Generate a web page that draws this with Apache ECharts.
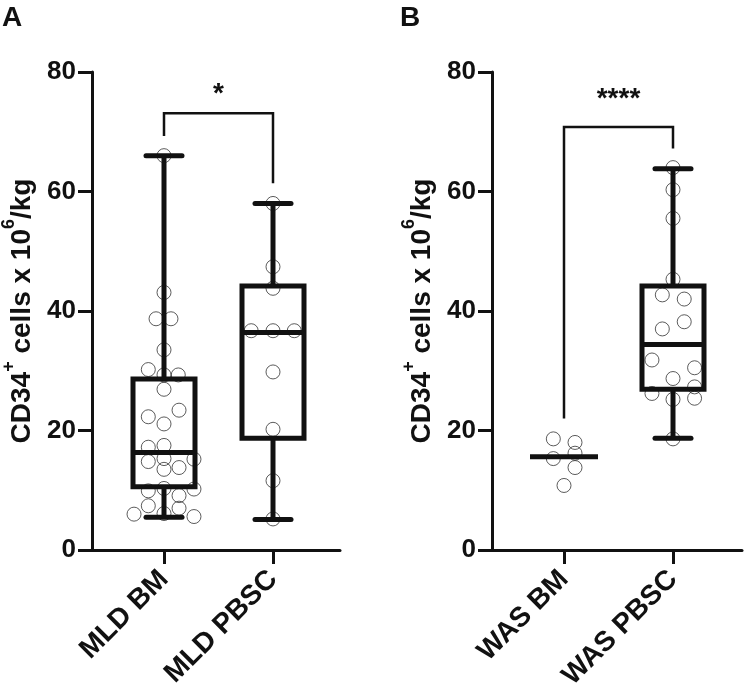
<!DOCTYPE html>
<html>
<head>
<meta charset="utf-8">
<script src="https://cdn.jsdelivr.net/npm/echarts@6/dist/echarts.min.js"></script>
<style>
html,body{margin:0;padding:0;background:#fff;}
#chart{width:747px;height:685px;}
</style>
</head>
<body>
<div id="chart"></div>
<script>
// ---- Data ----
const categoriesA = ['MLD BM', 'MLD PBSC'];
const categoriesB = ['WAS BM', 'WAS PBSC'];
const yTicks = [0, 20, 40, 60, 80];

// box stats: [category position, whisker low, Q1, median, Q3, whisker high]
const boxesA = [
  [1, 5.5, 10.6, 16.3, 28.6, 66.0],
  [2, 5.1, 18.7, 36.4, 44.2, 58.0]
];
const boxesB = [
  [2, 18.7, 26.9, 34.4, 44.2, 63.8]
];
// WAS BM shows only a median line
const medianOnlyB = [[1, 15.6]];

// individual points (values) and their horizontal jitter (category units)
const mldBmValues = [66.0, 43.1, 38.7, 38.7, 33.5, 30.2, 29.3, 29.3, 26.9, 23.4, 22.3, 21.1, 17.2, 17.5, 14.8, 15.3, 15.2, 13.5, 13.8, 9.9, 10.3, 10.2, 9.1, 7.4, 7.0, 6.0, 6.1, 5.6];
const mldBmJitter = [0, 0, -0.073, 0.064, 0, -0.144, 0, 0.131, 0, 0.138, -0.144, 0, -0.144, 0, -0.144, 0, 0.275, 0, 0.138, -0.144, 0, 0.275, 0.138, -0.144, 0.138, -0.275, 0, 0.275];
const mldPbscValues = [58.0, 47.4, 43.8, 36.7, 36.7, 36.7, 29.8, 20.2, 11.6, 5.2];
const mldPbscJitter = [0, 0, 0, -0.2, 0, 0.195, 0, 0, 0, 0];
const wasBmValues = [18.6, 18.0, 16.2, 15.3, 13.8, 10.8];
const wasBmJitter = [-0.098, 0.101, 0.101, -0.098, 0.101, 0];
const wasPbscValues = [64.0, 60.3, 55.5, 45.3, 42.7, 42.0, 38.2, 37.0, 31.8, 30.5, 28.7, 27.3, 26.2, 25.2, 25.4, 18.6];
const wasPbscJitter = [0, 0, 0, 0, -0.098, 0.103, 0.103, -0.098, -0.193, 0.198, 0, 0.198, -0.193, 0, 0.198, 0];

// significance brackets: [x left, left leg end, x right, right leg end, top, label y]
const bracketA = [[1, 69.3, 2, 61.4, 73.1, 76.2]];
const bracketALabel = '*';
const bracketB = [[1, 22.0, 2, 67.2, 70.8, 75.5]];
const bracketBLabel = '****';

// ---- Chart ----
const FONT = 'Liberation Sans, Arial, Helvetica, sans-serif';
const INK = '#111';
const X_MIN = 1 - 72 / 109;
const X_MAX_A = X_MIN + 248 / 109;
const X_MAX_B = X_MIN + 250 / 109;

function pts(values, jitter, cat) {
  return values.map((v, i) => [cat + jitter[i], v]);
}

function boxRender(params, api) {
  const x = api.value(0);
  const pLow = api.coord([x, api.value(1)]);
  const pQ1 = api.coord([x, api.value(2)]);
  const pMed = api.coord([x, api.value(3)]);
  const pQ3 = api.coord([x, api.value(4)]);
  const pHigh = api.coord([x, api.value(5)]);
  const cx = pLow[0];
  const hw = 31, cw = 18;
  const st = { stroke: INK, lineWidth: 5, fill: null };
  const cap = { stroke: INK, lineWidth: 5, fill: null, lineCap: 'round' };
  return {
    type: 'group',
    children: [
      { type: 'line', shape: { x1: cx, y1: pLow[1], x2: cx, y2: pQ1[1] }, style: st },
      { type: 'line', shape: { x1: cx, y1: pQ3[1], x2: cx, y2: pHigh[1] }, style: st },
      { type: 'line', shape: { x1: cx - cw, y1: pLow[1], x2: cx + cw, y2: pLow[1] }, style: cap },
      { type: 'line', shape: { x1: cx - cw, y1: pHigh[1], x2: cx + cw, y2: pHigh[1] }, style: cap },
      { type: 'rect', shape: { x: cx - hw, y: pQ3[1], width: 2 * hw, height: pQ1[1] - pQ3[1] }, style: { stroke: INK, lineWidth: 5, fill: 'rgba(0,0,0,0)' } },
      { type: 'line', shape: { x1: cx - hw, y1: pMed[1], x2: cx + hw, y2: pMed[1] }, style: st }
    ]
  };
}

function medianRender(params, api) {
  const p = api.coord([api.value(0), api.value(1)]);
  return { type: 'line', shape: { x1: p[0] - 34, y1: p[1], x2: p[0] + 34, y2: p[1] }, style: { stroke: INK, lineWidth: 5 } };
}

function bracketRender(label) {
  return function (params, api) {
    const pL0 = api.coord([api.value(0), api.value(1)]);
    const pLT = api.coord([api.value(0), api.value(4)]);
    const pRT = api.coord([api.value(2), api.value(4)]);
    const pR0 = api.coord([api.value(2), api.value(3)]);
    const pT = api.coord([(api.value(0) + api.value(2)) / 2, api.value(5)]);
    return {
      type: 'group',
      children: [
        { type: 'polyline', shape: { points: [pL0, pLT, pRT, pR0] }, style: { stroke: INK, lineWidth: 2.5, fill: null } },
        { type: 'text', x: pT[0], y: pT[1], style: { text: label, font: 'bold 28px ' + FONT, fill: INK, align: 'center', verticalAlign: 'middle' } }
      ]
    };
  };
}

const yName = '{a|CD34}{s|+}{a| cells x 10}{s|6}{a|/kg}';
const yNameStyle = {
  rich: {
    a: { fontSize: 28, fontWeight: 'bold', fontFamily: FONT, color: INK, padding: [8, 0, 0, 0], verticalAlign: 'bottom' },
    s: { fontSize: 18, fontWeight: 'bold', fontFamily: FONT, color: INK, verticalAlign: 'top' }
  }
};

function yAxis(gi) {
  return {
    gridIndex: gi, type: 'value', min: 0, max: 80, interval: 20,
    axisLine: { show: true, lineStyle: { color: INK, width: 3 } },
    axisTick: { show: true, length: 14, lineStyle: { color: INK, width: 3 } },
    axisLabel: { margin: 16, fontSize: 26, fontWeight: 'bold', fontFamily: FONT, color: INK,
      formatter: v => (yTicks.indexOf(v) >= 0 ? String(v) : '') },
    splitLine: { show: false },
    name: yName, nameLocation: 'middle', nameRotate: 90, nameGap: 56, nameTextStyle: yNameStyle
  };
}

function xAxis(gi, cats, max) {
  return {
    gridIndex: gi, type: 'value', min: X_MIN, max: max,
    axisLine: { show: true, onZero: false, lineStyle: { color: INK, width: 3 } },
    axisTick: { show: true, length: 14, lineStyle: { color: INK, width: 3 }, customValues: [1, 2] },
    axisLabel: { customValues: [1, 2], rotate: 45, margin: 25, fontSize: 28, fontWeight: 'bold', fontFamily: FONT, color: INK,
      formatter: v => cats[Math.round(v) - 1] || '' },
    splitLine: { show: false }
  };
}

const scatterStyle = { color: 'rgba(0,0,0,0)', borderColor: '#333', borderWidth: 1 };

const option = {
  animation: false,
  backgroundColor: '#fff',
  grid: [
    { left: 92, top: 72, width: 248, height: 478, containLabel: false, outerBoundsMode: 'none' },
    { left: 492, top: 72, width: 250, height: 478, containLabel: false, outerBoundsMode: 'none' }
  ],
  xAxis: [xAxis(0, categoriesA, X_MAX_A), xAxis(1, categoriesB, X_MAX_B)],
  yAxis: [yAxis(0), yAxis(1)],
  graphic: [
    { type: 'text', left: 2, top: 4, style: { text: 'A', font: 'bold 28px ' + FONT, fill: INK } },
    { type: 'text', left: 400, top: 4, style: { text: 'B', font: 'bold 28px ' + FONT, fill: INK } }
  ],
  series: [
    { type: 'scatter', xAxisIndex: 0, yAxisIndex: 0, z: 1, symbol: 'circle', symbolSize: 14, itemStyle: scatterStyle, data: pts(mldBmValues, mldBmJitter, 1) },
    { type: 'scatter', xAxisIndex: 0, yAxisIndex: 0, z: 1, symbol: 'circle', symbolSize: 14, itemStyle: scatterStyle, data: pts(mldPbscValues, mldPbscJitter, 2) },
    { type: 'scatter', xAxisIndex: 1, yAxisIndex: 1, z: 1, symbol: 'circle', symbolSize: 14, itemStyle: scatterStyle, data: pts(wasBmValues, wasBmJitter, 1) },
    { type: 'scatter', xAxisIndex: 1, yAxisIndex: 1, z: 1, symbol: 'circle', symbolSize: 14, itemStyle: scatterStyle, data: pts(wasPbscValues, wasPbscJitter, 2) },
    { type: 'custom', xAxisIndex: 0, yAxisIndex: 0, z: 2, renderItem: boxRender, encode: { x: 0, y: [1, 2, 3, 4, 5] }, data: boxesA },
    { type: 'custom', xAxisIndex: 1, yAxisIndex: 1, z: 2, renderItem: boxRender, encode: { x: 0, y: [1, 2, 3, 4, 5] }, data: boxesB },
    { type: 'custom', xAxisIndex: 1, yAxisIndex: 1, z: 2, renderItem: medianRender, encode: { x: 0, y: 1 }, data: medianOnlyB },
    { type: 'custom', xAxisIndex: 0, yAxisIndex: 0, z: 2, renderItem: bracketRender(bracketALabel), encode: { x: [0, 2], y: [1, 3, 4, 5] }, data: bracketA, clip: false },
    { type: 'custom', xAxisIndex: 1, yAxisIndex: 1, z: 2, renderItem: bracketRender(bracketBLabel), encode: { x: [0, 2], y: [1, 3, 4, 5] }, data: bracketB, clip: false }
  ]
};

const chart = echarts.init(document.getElementById('chart'), null, { renderer: 'canvas' });
chart.setOption(option);
</script>
</body>
</html>
